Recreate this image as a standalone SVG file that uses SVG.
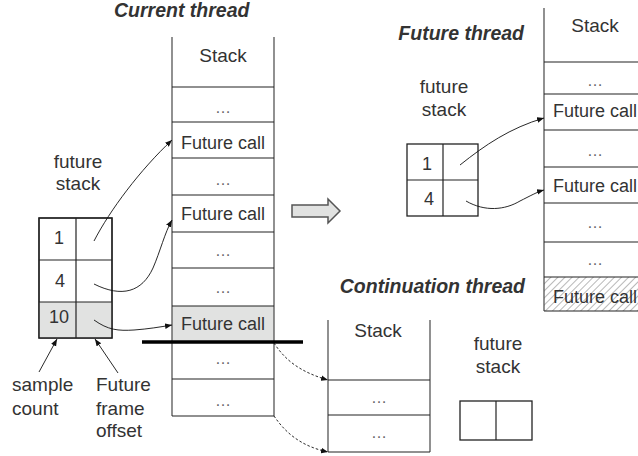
<svg xmlns="http://www.w3.org/2000/svg" width="638" height="456" viewBox="0 0 638 456">
  <style>
    .t { font-family: "Liberation Sans", Arial, sans-serif; fill: #333; }
    .lbl { font-size: 19px; }
    .cell { font-size: 18px; text-anchor: middle; }
    .dots { font-size: 16px; text-anchor: middle; fill: #666; }
    .title { font-size: 19.5px; font-weight: bold; font-style: italic; fill: #333; }
    .edge { stroke: #555; stroke-width: 1.3; fill: none; }
    .row { stroke: #222; stroke-width: 1.2; }
    .box { stroke: #222; stroke-width: 1.3; fill: #fff; }
    .shade { fill: #e1e2e1; }
    .conn { stroke: #111; stroke-width: 0.9; fill: none; marker-end: url(#tip); }
    .dash { stroke-dasharray: 2.5 2; }
  </style>
  <defs>
    <marker id="tip" viewBox="0 0 10 10" refX="10" refY="5" markerWidth="7" markerHeight="7" markerUnits="userSpaceOnUse" orient="auto">
      <path d="M0,1 L10,5 L0,9 z" fill="#111"/>
    </marker>
    <pattern id="hatch" width="5" height="5" patternUnits="userSpaceOnUse" patternTransform="rotate(45)">
      <rect width="5" height="5" fill="#fff"/>
      <line x1="0" y1="0" x2="0" y2="5" stroke="#999" stroke-width="1.4"/>
    </pattern>
  </defs>

  <rect width="638" height="456" fill="#fff"/>

  <!-- titles -->
  <text class="t title" x="114" y="17">Current thread</text>
  <text class="t title" x="524" y="40" text-anchor="end">Future thread</text>
  <text class="t title" x="525" y="293" text-anchor="end">Continuation thread</text>

  <!-- current thread: call stack -->
  <g id="current-stack">
    <rect class="shade" x="172" y="306" width="102" height="36"/>
    <line class="edge" x1="172" y1="37" x2="172" y2="416"/>
    <line class="edge" x1="274" y1="37" x2="274" y2="416"/>
    <line class="row" x1="172" y1="87" x2="274" y2="87"/>
    <line class="row" x1="172" y1="122" x2="274" y2="122"/>
    <line class="row" x1="172" y1="158" x2="274" y2="158"/>
    <line class="row" x1="172" y1="195" x2="274" y2="195"/>
    <line class="row" x1="172" y1="232" x2="274" y2="232"/>
    <line class="row" x1="172" y1="268" x2="274" y2="268"/>
    <line class="row" x1="172" y1="306" x2="274" y2="306"/>
    <line class="row" x1="172" y1="379" x2="274" y2="379"/>
    <line class="row" x1="172" y1="416" x2="274" y2="416"/>
    <text class="t lbl" x="223" y="62" text-anchor="middle">Stack</text>
    <text class="t dots" x="223" y="113">…</text>
    <text class="t cell" x="223" y="149">Future call</text>
    <text class="t dots" x="223" y="185">…</text>
    <text class="t cell" x="223" y="220">Future call</text>
    <text class="t dots" x="223" y="256">…</text>
    <text class="t dots" x="223" y="293">…</text>
    <text class="t cell" x="223" y="330">Future call</text>
    <text class="t dots" x="223" y="364">…</text>
    <text class="t dots" x="223" y="406">…</text>
  </g>

  <!-- split line across the current stack -->
  <line id="split" x1="142" y1="342" x2="303" y2="342" stroke="#000" stroke-width="3.5"/>

  <!-- current thread: future stack -->
  <g id="current-future-stack">
    <text class="t lbl" x="78" y="168" text-anchor="middle">future</text>
    <text class="t lbl" x="78" y="190" text-anchor="middle">stack</text>
    <rect class="box" x="39" y="218" width="73" height="120"/>
    <rect class="shade" x="39.6" y="302" width="71.8" height="35.4"/>
    <line class="row" x1="39" y1="260" x2="112" y2="260"/>
    <line class="row" x1="39" y1="302" x2="112" y2="302"/>
    <line class="row" x1="76" y1="218" x2="76" y2="338"/>
    <rect x="39" y="218" width="73" height="120" fill="none" stroke="#222" stroke-width="1.3"/>
    <text class="t cell" x="59" y="244">1</text>
    <text class="t cell" x="60" y="287">4</text>
    <text class="t cell" x="59" y="323">10</text>
  </g>

  <g id="legend">
    <text class="t lbl" x="12" y="391">sample</text>
    <text class="t lbl" x="12" y="415">count</text>
    <text class="t lbl" x="96" y="391">Future</text>
    <text class="t lbl" x="96" y="415">frame</text>
    <text class="t lbl" x="96" y="437">offset</text>
  </g>

  <!-- transition arrow -->
  <g id="step-arrow">
    <path d="M292,205 L328,205 L328,199 L340,211 L328,223 L328,217 L292,217 z" fill="#e1e2e1" stroke="#555" stroke-width="1.5" stroke-linejoin="miter"/>
  </g>

  <!-- future thread: future stack -->
  <g id="future-thread-future-stack">
    <text class="t lbl" x="444" y="93" text-anchor="middle">future</text>
    <text class="t lbl" x="444" y="116" text-anchor="middle">stack</text>
    <rect class="box" x="407" y="144" width="71" height="72"/>
    <line class="row" x1="407" y1="180" x2="478" y2="180"/>
    <line class="row" x1="443" y1="144" x2="443" y2="216"/>
    <text class="t cell" x="427" y="170">1</text>
    <text class="t cell" x="429" y="205">4</text>
  </g>

  <!-- future thread: call stack -->
  <g id="future-thread-stack">
    <rect x="544" y="277" width="102" height="34" fill="url(#hatch)"/>
    <line class="edge" x1="544" y1="8" x2="544" y2="311" stroke="#222"/>
    <line class="row" x1="544" y1="62" x2="638" y2="62"/>
    <line class="row" x1="544" y1="94" x2="638" y2="94"/>
    <line class="row" x1="544" y1="130" x2="638" y2="130"/>
    <line class="row" x1="544" y1="167" x2="638" y2="167"/>
    <line class="row" x1="544" y1="203" x2="638" y2="203" stroke="#666" stroke-width="1.6"/>
    <line class="row" x1="544" y1="242" x2="638" y2="242"/>
    <line class="row" x1="544" y1="277" x2="638" y2="277"/>
    <line class="row" x1="544" y1="311" x2="638" y2="311"/>
    <text class="t lbl" x="595" y="32" text-anchor="middle">Stack</text>
    <text class="t dots" x="595" y="86">…</text>
    <text class="t cell" x="595" y="117">Future call</text>
    <text class="t dots" x="595" y="156">…</text>
    <text class="t cell" x="595" y="192">Future call</text>
    <text class="t dots" x="595" y="228">…</text>
    <text class="t dots" x="595" y="265">…</text>
    <text class="t cell" x="595" y="303" fill="#555">Future call</text>
  </g>

  <!-- continuation thread: call stack -->
  <g id="continuation-stack">
    <line class="edge" x1="328" y1="320" x2="328" y2="452"/>
    <line class="edge" x1="430" y1="320" x2="430" y2="452"/>
    <line class="row" x1="328" y1="380" x2="430" y2="380"/>
    <line class="row" x1="328" y1="415" x2="430" y2="415"/>
    <line class="row" x1="328" y1="452" x2="430" y2="452"/>
    <text class="t lbl" x="378" y="337" text-anchor="middle">Stack</text>
    <text class="t dots" x="379" y="403">…</text>
    <text class="t dots" x="379" y="438">…</text>
  </g>

  <!-- continuation thread: future stack -->
  <g id="continuation-future-stack">
    <text class="t lbl" x="498" y="350" text-anchor="middle">future</text>
    <text class="t lbl" x="498" y="373" text-anchor="middle">stack</text>
    <rect class="box" x="460" y="401" width="72" height="39"/>
    <line class="row" x1="496" y1="401" x2="496" y2="440"/>
  </g>

  <!-- connectors -->
  <g id="connectors">
    <path class="conn" d="M94,241 C110,210 140,170 172,140"/>
    <path class="conn" d="M94,284 C122,298 142,292 153,268 C160,252 165,232 172,220"/>
    <path class="conn" d="M94,320 C108,330 118,331 134,330 C148,329 160,327 172,325"/>
    <path class="conn" d="M39,372 L57,339"/>
    <path class="conn" d="M118,373 L95,339"/>
    <path class="conn" d="M460,165 C485,145 510,128 544,118"/>
    <path class="conn" d="M466,201 C485,212 505,210 520,201 C530,196 537,192 544,190"/>
    <path class="conn dash" d="M274,343 C285,360 300,372 328,380"/>
    <path class="conn dash" d="M274,416 C285,432 300,446 328,452"/>
  </g>
</svg>
